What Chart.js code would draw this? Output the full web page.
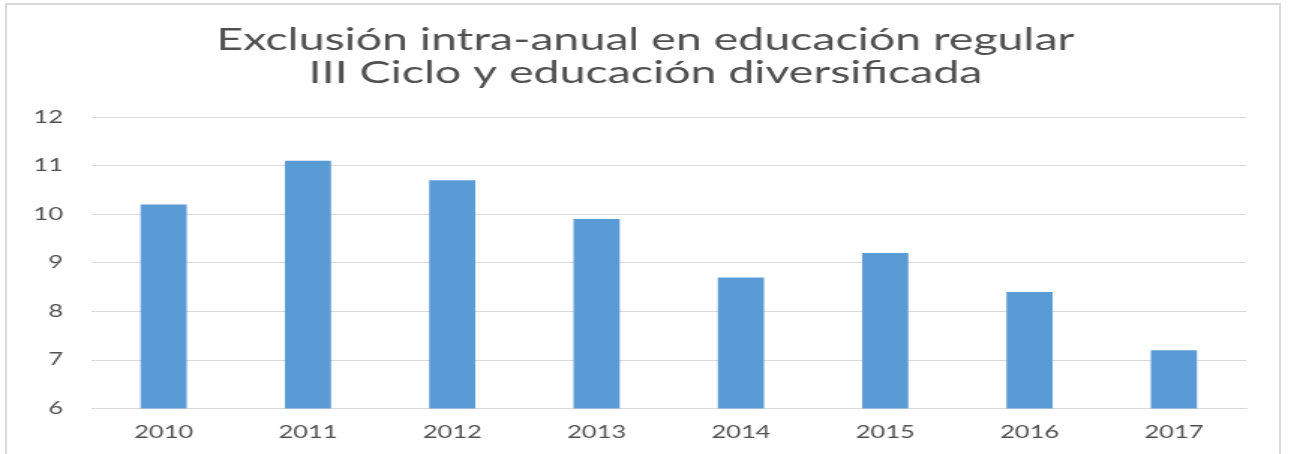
<!DOCTYPE html>
<html>
<head>
<meta charset="utf-8">
<script src="https://cdn.jsdelivr.net/npm/chart.js@4.4.1/dist/chart.umd.min.js"></script>
<style>
  html, body { margin: 0; padding: 0; background: #fff; overflow: hidden; }
  #frame { position: absolute; left: 5px; top: 3px; width: 1276px; height: 470px; border: 2px solid #d9d9d9; box-sizing: border-box; }
  #wrap { position: absolute; left: 0; top: 0; width: 861px; height: 454px; transform: scaleX(1.4994); transform-origin: 0 0; }
</style>
</head>
<body>
<div id="frame"></div>
<div id="wrap"><canvas id="c"></canvas></div>
<script>
// Exclusión intra-anual — III Ciclo y diversificada
const years = ['2010', '2011', '2012', '2013', '2014', '2015', '2016', '2017'];
const exclusion = [10.2, 11.1, 10.7, 9.9, 8.7, 9.2, 8.4, 7.2];
const titleLines = ['Exclusión intra-anual en educación regular', 'III Ciclo y educación diversificada'];
const yMin = 6, yMax = 12, yStep = 1;

const grey = '#505050';

new Chart(document.getElementById('c'), {
  type: 'bar',
  data: {
    labels: years,
    datasets: [{ label: 'Exclusión', data: exclusion, backgroundColor: '#5b9bd5', categoryPercentage: 1, barPercentage: .32 }]
  },
  options: {
    responsive: true, maintainAspectRatio: false, animation: false,
    layout: { padding: { top: 23, right: 0, bottom: 5, left: 0 } },
    plugins: {
      legend: { display: false },
      tooltip: { enabled: false },
      title: { display: true, text: titleLines, color: grey, font: { family: 'Lato', size: 31, weight: 'normal', lineHeight: 1.065 }, padding: { top: 0, bottom: 28 } }
    },
    scales: {
      x: {
        grid: { display: false },
        border: { color: '#d9d9d9', width: 1 },
        ticks: { color: grey, font: { family: 'Lato', size: 17 }, padding: 6 }
      },
      y: {
        min: yMin, max: yMax,
        grid: { color: '#d9d9d9', drawTicks: false },
        border: { display: false },
        ticks: { stepSize: yStep, color: grey, font: { family: 'Lato', size: 17 }, padding: 19 },
        afterFit(a) { a.width = 61 }
      },
      // empty right margin so the title stays centred on the whole box
      yR: {
        position: 'right', min: yMin, max: yMax,
        grid: { display: false }, border: { display: false }, ticks: { display: false },
        afterFit(a) { a.width = 30 }
      }
    }
  }
});
</script>
</body>
</html>
